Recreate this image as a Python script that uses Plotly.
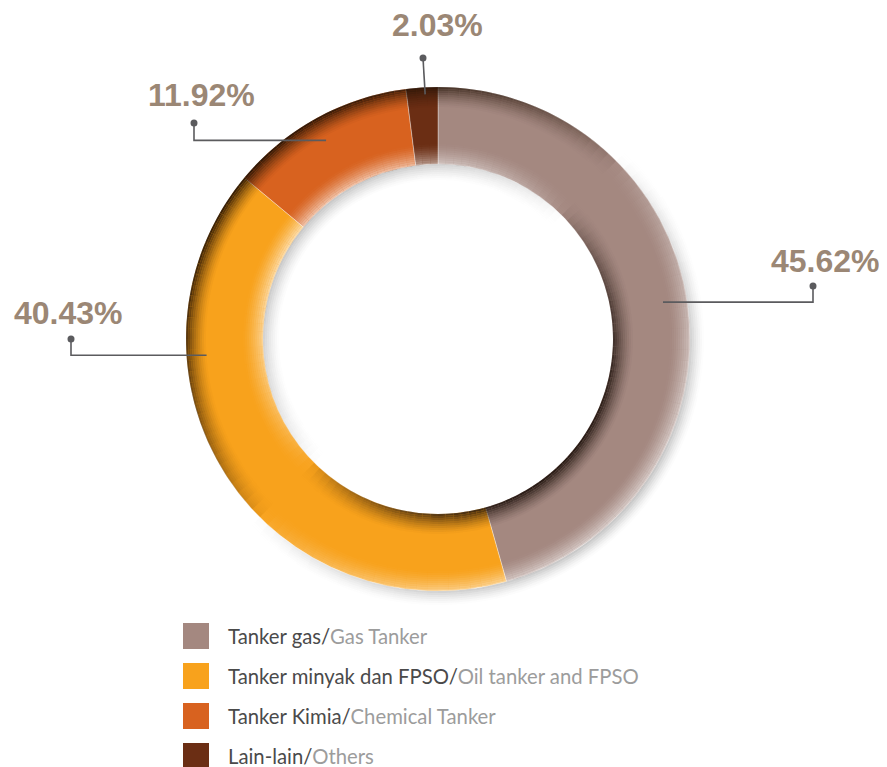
import math
import plotly.graph_objects as go

# ---------------- data ----------------
categories_id = ["Tanker gas", "Tanker minyak dan FPSO", "Tanker Kimia", "Lain-lain"]
categories_en = ["Gas Tanker", "Oil tanker and FPSO", "Chemical Tanker", "Others"]
shares = [45.62, 40.43, 11.92, 2.03]
share_labels = ["45.62%", "40.43%", "11.92%", "2.03%"]

# ---------------- style ----------------
OFF = 8                    # page body margin of the browser
W, H = 887 - OFF, 767 - OFF
slice_colors = ["#A48880", "#F8A21C", "#D8621F", "#6B2E14"]
CX, CY = 438, 339          # ring centre (window px)
R_OUT, R_IN = 252, 175     # ring radii (px)

# label / leader layout (window px)
label_pos = [(825, 261), (68, 313), (201, 95), (437, 25)]
dot_pos = [(813, 286), (71, 339), (194, 123), (423, 58)]
leader_angle = [80.7, 266.0, 330.6, 357.0]   # degrees clockwise from 12 o'clock
leader_r = [228, 232, 228, 245]
leader_elbow = [True, True, True, False]
label_color = "#9B8775"
line_color = "#5B5B5E"

legend_x, legend_y0, legend_dy, legend_sq = 183, 636, 40.0, 26


def paper(x, y):
    return (x - OFF) / W, 1 - (y - OFF) / H


def domain_for(r):
    x0, y1 = paper(CX - r, CY - r)
    x1, y0 = paper(CX + r, CY + r)
    return dict(x=[x0, x1], y=[y0, y1])


fig = go.Figure()

# main donut
fig.add_trace(go.Pie(
    values=shares,
    labels=categories_id,
    marker=dict(colors=slice_colors, line=dict(color="rgba(255,255,255,0.35)", width=1)),
    hole=R_IN / R_OUT,
    sort=False,
    direction="clockwise",
    rotation=0,
    textinfo="none",
    hoverinfo="label+percent",
    showlegend=False,
    domain=domain_for(R_OUT),
))

# ---------------- bevel shading (decorative rings) ----------------
N = 144


def f_tl(theta):
    v = math.cos(math.radians(theta - 315))
    return max(0.0, v) ** 0.7


def f_br(theta):
    v = math.cos(math.radians(theta - 135))
    return max(0.0, v) ** 0.7


def add_ring(r_in, r_out, color_fn):
    cols = []
    for i in range(N):
        th = (i + 0.5) * 360 / N
        cols.append(color_fn(th))
    fig.add_trace(go.Pie(
        values=[1] * N,
        marker=dict(colors=cols, line=dict(width=0)),
        hole=r_in / r_out,
        sort=False,
        direction="clockwise",
        rotation=0,
        textinfo="none",
        hoverinfo="skip",
        showlegend=False,
        domain=domain_for(r_out),
    ))


band = 2
# drop shadow outside (bottom-right) and inside the hole (top-left)
for k in range(7):
    a = 0.28 * (1 - k / 7) ** 1.5
    ro = R_OUT + band * (k + 1)
    add_ring(ro - band, ro, lambda th, a=a: f"rgba(60,60,60,{a * f_br(th):.3f})")
for k in range(8):
    a = 0.28 * (1 - k / 8) ** 1.4
    ri = R_IN - band * (k + 1)
    add_ring(ri, ri + band, lambda th, a=a: f"rgba(60,60,60,{a * f_tl(th):.3f})")

# outer edge: dark top-left, light bottom-right
for k in range(10):
    t = (1 - k / 10) ** 1.5
    ro = R_OUT - band * k
    def col(th, t=t):
        d = f_tl(th)
        if d > 0:
            return f"rgba(35,18,5,{0.92 * t * d:.3f})"
        return f"rgba(255,255,255,{0.55 * t * f_br(th):.3f})"
    add_ring(ro - band, ro, col)

# inner edge: dark bottom-right, light top-left
for k in range(10):
    t = (1 - k / 10) ** 1.5
    ri = R_IN + band * k
    def col(th, t=t):
        d = f_br(th)
        if d > 0:
            return f"rgba(30,18,12,{0.92 * t * d:.3f})"
        return f"rgba(255,255,255,{0.6 * t * f_tl(th):.3f})"
    add_ring(ri, ri + band, col)

# ---------------- labels & leaders ----------------
shapes = []
annotations = []
for i in range(len(shares)):
    a = math.radians(leader_angle[i])
    sx = CX + leader_r[i] * math.sin(a)
    sy = CY - leader_r[i] * math.cos(a)
    dx, dy = dot_pos[i]
    if leader_elbow[i]:
        pts = [(sx, sy), (dx, sy), (dx, dy)]
    else:
        pts = [(sx, sy), (dx, dy)]
    path = "M " + " L ".join(f"{paper(x, y)[0]:.5f},{paper(x, y)[1]:.5f}" for x, y in pts)
    shapes.append(dict(type="path", xref="paper", yref="paper", path=path,
                       line=dict(color=line_color, width=1.6)))
    px0, py0 = paper(dx - 3.5, dy + 3.5)
    px1, py1 = paper(dx + 3.5, dy - 3.5)
    shapes.append(dict(type="circle", xref="paper", yref="paper", x0=px0, y0=py0, x1=px1, y1=py1,
                       fillcolor=line_color, line=dict(width=0)))
    lx, ly = paper(*label_pos[i])
    annotations.append(dict(x=lx, y=ly, xref="paper", yref="paper", text=f"<b>{share_labels[i]}</b>",
                            showarrow=False, xanchor="center", yanchor="middle",
                            font=dict(family="Liberation Sans, Arial", size=32, color=label_color)))

# ---------------- custom legend ----------------
for i in range(len(categories_id)):
    cy = legend_y0 + i * legend_dy
    x0, y0 = paper(legend_x, cy + legend_sq / 2)
    x1, y1 = paper(legend_x + legend_sq, cy - legend_sq / 2)
    shapes.append(dict(type="rect", xref="paper", yref="paper", x0=x0, y0=y0, x1=x1, y1=y1,
                       fillcolor=slice_colors[i], line=dict(width=0)))
    tx, ty = paper(legend_x + legend_sq + 18, cy - 0.5)
    annotations.append(dict(
        x=tx, y=ty, xref="paper", yref="paper", showarrow=False, xanchor="left", yanchor="middle",
        borderpad=0,
        text=f"<span style='color:#4A4A4A'>{categories_id[i]}/</span>"
             f"<span style='color:#9C9C9C'>{categories_en[i]}</span>",
        font=dict(family="Lato, Open Sans", size=20.3, color="#4A4A4A")))

fig.update_layout(
    width=W, height=H,
    margin=dict(l=0, r=0, t=0, b=0),
    paper_bgcolor="white", plot_bgcolor="white",
    shapes=shapes, annotations=annotations,
    showlegend=False,
)

fig.write_html("out.html")
